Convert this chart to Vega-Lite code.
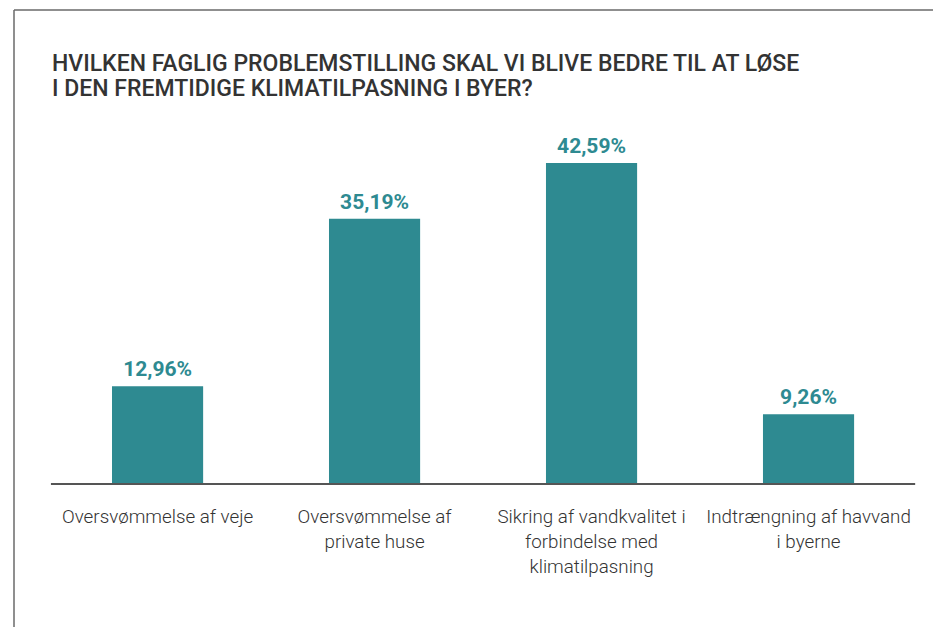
{
  "$schema": "https://vega.github.io/schema/vega-lite/v6.json",
  "width": 919,
  "height": 617,
  "autosize": {"type": "none"},
  "padding": {"left": 14, "top": 10, "right": 0, "bottom": 0},
  "background": "white",
  "config": {
    "view": {"stroke": "#6b6b6b", "strokeWidth": 1.5, "strokeDash": [919, 1536, 617, 0]},
    "locale": {"number": {"decimal": ",", "thousands": ".", "grouping": [3], "currency": ["", " kr."]}},
    "font": "Roboto"
  },
  "title": {
    "text": ["HVILKEN FAGLIG PROBLEMSTILLING SKAL VI BLIVE BEDRE TIL AT LØSE", "I DEN FREMTIDIGE KLIMATILPASNING I BYER?"],
    "anchor": "start",
    "frame": "group",
    "orient": "top",
    "offset": -91,
    "baseline": "top",
    "dx": 38,
    "font": "Roboto",
    "fontSize": 23,
    "fontWeight": 500,
    "color": "#333333",
    "lineHeight": 25
  },
  "data": {
    "values": [
      {"kategori": "Oversvømmelse af veje", "andel": 0.1296},
      {"kategori": "Oversvømmelse af|private huse", "andel": 0.3519},
      {"kategori": "Sikring af vandkvalitet i|forbindelse med|klimatilpasning", "andel": 0.4259},
      {"kategori": "Indtrængning af havvand|i byerne", "andel": 0.0926}
    ]
  },
  "encoding": {
    "x": {
      "field": "kategori",
      "type": "nominal",
      "sort": null,
      "scale": {"paddingInner": 0.58, "paddingOuter": 0.4076, "align": 0.554},
      "axis": {
        "title": null,
        "domain": false,
        "ticks": false,
        "labelAngle": 0,
        "offset": -143,
        "labelPadding": 23,
        "labelBaseline": "top",
        "labelExpr": "split(datum.label, '|')",
        "labelLineHeight": 25,
        "labelFont": "Roboto",
        "labelFontSize": 18.8,
        "labelFontWeight": 300,
        "labelColor": "#333333",
        "labelLimit": 0
      }
    }
  },
  "layer": [
    {
      "mark": {"type": "bar", "color": "#2E8A91"},
      "encoding": {
        "y": {"field": "andel", "type": "quantitative", "scale": {"domain": [-0.18973, 0.6289], "nice": false, "zero": false}, "axis": null}
      }
    },
    {
      "data": {"values": [{"fra": "Oversvømmelse af veje", "til": "Indtrængning af havvand|i byerne"}]},
      "mark": {"type": "rule", "color": "#555555", "strokeWidth": 2},
      "encoding": {
        "x": {"field": "fra", "type": "nominal", "sort": null, "bandPosition": -0.67},
        "x2": {"field": "til", "bandPosition": 1.67},
        "y": {"datum": 0, "type": "quantitative"}
      }
    },
    {
      "mark": {"type": "text", "color": "#2E8A91", "fontSize": 21, "fontWeight": "bold", "baseline": "alphabetic", "dy": -10, "font": "Roboto"},
      "encoding": {
        "y": {"field": "andel", "type": "quantitative"},
        "text": {"field": "andel", "type": "quantitative", "format": ".2%"}
      }
    }
  ]
}
